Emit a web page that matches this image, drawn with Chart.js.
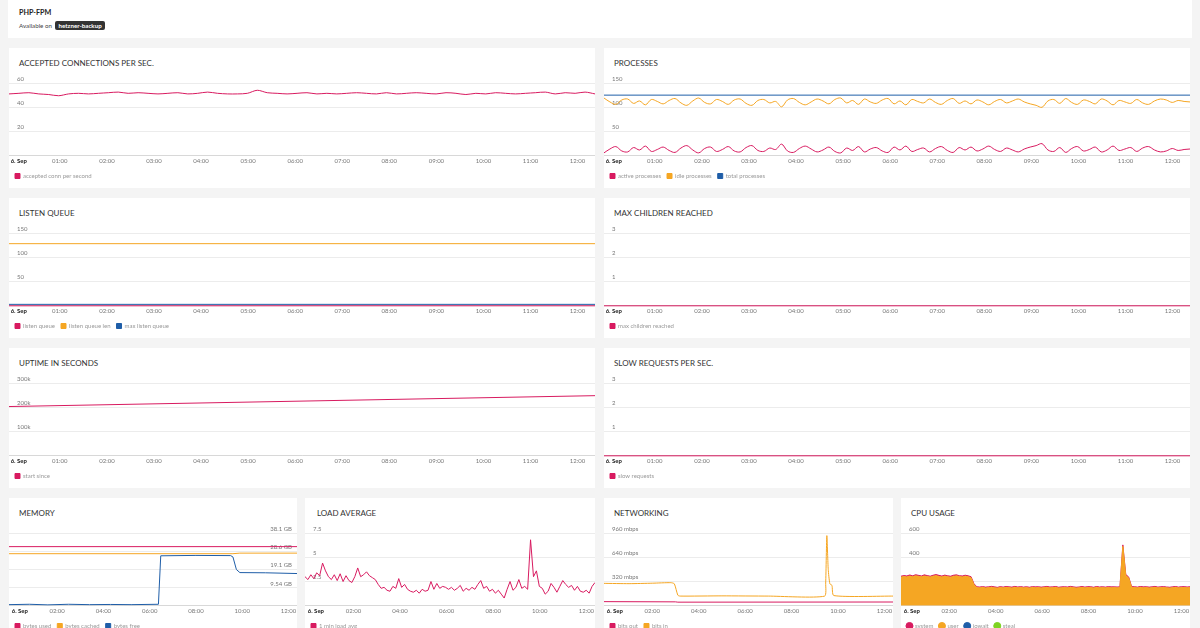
<!DOCTYPE html>
<html>
<head>
<meta charset="utf-8">
<title>PHP-FPM</title>
<script src="https://cdn.jsdelivr.net/npm/chart.js"></script>
<style>
  html, body { margin: 0; padding: 0; }
  body { width: 1200px; height: 628px; overflow: hidden; position: relative; background: #f4f4f4; font-family: Lato, 'Open Sans', sans-serif; }
  .head { position: absolute; left: 8px; top: 0; width: 1184px; height: 38px; background: #fff; }
  .head .name { position: absolute; left: 11px; top: 8px; font-size: 7.2px; font-weight: bold; color: #222; }
  .head .avail { position: absolute; left: 11px; top: 21px; font-size: 6.2px; color: #444; }
  .head .badge { display: inline-block; background: #333; color: #fff; font-weight: bold; padding: 1px 3px; border-radius: 2px; margin-left: 2px; }
  .card { position: absolute; background: #fff; height: 140px; overflow: hidden; }
  .card .title { position: absolute; left: 10px; top: 10px; font-size: 8px; color: #333; white-space: nowrap; }
  .card .plot { position: absolute; left: 0; right: 0; top: 26px; height: 115px; }
</style>
</head>
<body>
<div class="head"><div class="name">PHP-FPM</div><div class="avail">Available on <span class="badge">hetzner-backup</span></div></div>

<div class="card" style="left:9px;top:48px;width:586px"><div class="title">ACCEPTED CONNECTIONS PER SEC.</div><div class="plot"><canvas id="conn"></canvas></div></div>
<div class="card" style="left:604px;top:48px;width:586px"><div class="title">PROCESSES</div><div class="plot"><canvas id="procs"></canvas></div></div>
<div class="card" style="left:9px;top:198px;width:586px"><div class="title">LISTEN QUEUE</div><div class="plot"><canvas id="queue"></canvas></div></div>
<div class="card" style="left:604px;top:198px;width:586px"><div class="title">MAX CHILDREN REACHED</div><div class="plot"><canvas id="children"></canvas></div></div>
<div class="card" style="left:9px;top:348px;width:586px"><div class="title">UPTIME IN SECONDS</div><div class="plot"><canvas id="uptime"></canvas></div></div>
<div class="card" style="left:604px;top:348px;width:586px"><div class="title">SLOW REQUESTS PER SEC.</div><div class="plot"><canvas id="slow"></canvas></div></div>
<div class="card" style="left:9px;top:498px;width:288px"><div class="title">MEMORY</div><div class="plot"><canvas id="memory"></canvas></div></div>
<div class="card" style="left:305px;top:498px;width:290px"><div class="title" style="left:12px">LOAD AVERAGE</div><div class="plot"><canvas id="load"></canvas></div></div>
<div class="card" style="left:604px;top:498px;width:289px"><div class="title">NETWORKING</div><div class="plot"><canvas id="net"></canvas></div></div>
<div class="card" style="left:901px;top:498px;width:289px"><div class="title">CPU USAGE</div><div class="plot"><canvas id="cpu"></canvas></div></div>

<script>
// Zeitachse in Stunden ab Mitternacht (6. Sep)
var X_MIN = -0.08, X_MAX = 12.37;
var HOURS = [0, 1, 2, 3, 4, 5, 6, 7, 8, 9, 10, 11, 12];
var HOUR_LABELS = ['6. Sep', '01:00', '02:00', '03:00', '04:00', '05:00', '06:00', '07:00', '08:00', '09:00', '10:00', '11:00', '12:00'];
var HOURS_WIDE = [0, 2, 4, 6, 8, 10, 12];
var HOUR_LABELS_WIDE = ['6. Sep', '02:00', '04:00', '06:00', '08:00', '10:00', '12:00'];
// Einrückung des ersten Labels, damit es nicht am Rand abgeschnitten wird
var LEAD = '\u2002\u2002\u2002\u2002', LEAD_WIDE = '\u2002\u2002\u2002\u2002\u2002\u2002';

var PINK = '#d81b60', ORANGE = '#f5a623', BLUE = '#1f5ea8', GREEN = '#7ed321';

// accepted conn pro Sekunde
var connValues = [51, 51.5, 52, 51, 50.5, 49.5, 51, 51.5, 51, 51.5,
  52, 52.5, 51.5, 52, 51.5, 51, 51.5, 52, 51, 51.5,
  52.5, 51.5, 51, 51, 51.5, 54, 52, 51.5, 51, 51.5,
  52, 51, 51.5, 51, 51.5, 52, 51.5, 51, 52, 51,
  51.5, 52, 51.5, 51, 52, 51.5, 50.5, 51.5, 51, 52,
  51.5, 51, 51.5, 52, 52.5, 51, 52, 51.5, 52.5, 51];
var connTicks = [0, 20, 40, 60];

// Prozesse
var activeProcs = [6, 14, 19, 10, 8, 17, 12, 20, 9, 13,
  18, 11, 7, 16, 21, 12, 6, 15, 18, 9,
  13, 19, 10, 8, 17, 21, 11, 9, 16, 13,
  24, 10, 7, 15, 20, 14, 8, 12, 18, 9,
  6, 16, 11, 19, 8, 14, 17, 10, 7, 18,
  12, 20, 9, 13, 16, 8, 15, 19, 11, 7,
  17, 12, 18, 10, 14, 20, 13, 9, 16, 12,
  8, 14, 18, 21, 25, 12, 9, 17, 7, 15,
  19, 10, 13, 18, 8, 12, 20, 11, 14, 17,
  9, 16, 19, 12, 8, 10, 15, 11, 13, 14];
var idleProcs = [119, 111, 106, 115, 117, 108, 113, 105, 116, 112,
  107, 114, 118, 109, 104, 113, 119, 110, 107, 116,
  112, 106, 115, 117, 108, 104, 114, 116, 109, 112,
  101, 115, 118, 110, 105, 111, 117, 113, 107, 116,
  119, 109, 114, 106, 117, 111, 108, 115, 118, 107,
  113, 105, 116, 112, 109, 117, 110, 106, 114, 118,
  108, 113, 107, 115, 111, 105, 112, 116, 109, 113,
  117, 111, 107, 104, 100, 113, 116, 108, 118, 110,
  106, 115, 112, 107, 117, 113, 105, 114, 111, 108,
  116, 109, 106, 113, 117, 115, 110, 114, 112, 111];
var totalProcs = [125, 125];
var procTicks = [0, 50, 100, 150];

// Listen queue
var listenQueue = [0, 0];
var listenQueueLen = [128, 128];
var maxListenQueue = [3, 3];
var queueTicks = [0, 50, 100, 150];

var maxChildren = [0, 0];
var slowRequests = [0, 0];
var smallTicks = [0, 1, 2, 3];

// start since (Sekunden)
var startSince = [203000, 247800];
var uptimeTicks = [0, 100000, 200000, 300000];
var uptimeLabels = ['', '100k', '200k', '300k'];

// Speicher in GiB, [Stunde, Wert]
var bytesUsed = [[-0.1, 31.0], [12.4, 31.0]];
var bytesCached = [[-0.1, 27.3], [9.6, 27.3], [9.9, 27.6], [12.4, 27.6]];
var bytesFree = [[-0.1, 0.6], [0.8, 0.8], [1.6, 0.5], [2.5, 0.8], [3.4, 0.6], [4.3, 0.7], [5.2, 0.6], [6.38, 0.8],
  [6.48, 26.2], [8.0, 26.4], [9.5, 26.3], [9.6, 25.6], [9.75, 19.0], [9.9, 17.4], [11.0, 17.3], [12.4, 16.9]];
var memTicks = [0, 9.537, 19.073, 28.61, 38.147];
var memLabels = ['', '9.54 GB', '19.1 GB', '28.6 GB', '38.1 GB'];

// 1 min load avg
var loadValues = [3.0, 2.7, 3.2, 2.8, 3.4, 3.1, 4.4, 3.6, 3.0, 2.7,
  3.2, 2.6, 3.3, 2.5, 3.1, 2.6, 2.4, 3.0, 3.9, 3.0,
  3.2, 3.5, 3.1, 2.9, 2.7, 2.2, 1.8, 1.9, 1.6, 1.5,
  2.0, 1.8, 2.8, 1.9, 2.2, 1.7, 1.5, 1.4, 1.6, 1.3,
  1.7, 1.5, 1.6, 2.5, 1.7, 2.3, 1.8, 2.0, 1.9, 1.7,
  1.9, 1.6, 1.8, 2.1, 1.5, 1.8, 1.6, 1.9, 1.7, 2.2,
  2.6, 1.8, 2.0, 1.5, 1.7, 1.3, 1.6, 1.2, 0.8, 1.7,
  2.5, 1.6, 1.9, 2.7, 1.8, 2.0, 1.7, 6.8, 3.0, 3.6,
  2.0, 1.8, 1.2, 1.5, 2.3, 1.9, 1.4, 2.0, 2.6, 2.2,
  1.9, 2.1, 1.6, 2.0, 1.5, 1.4, 1.6, 1.3, 2.0, 2.4];
var loadTicks = [0, 2.5, 5, 7.5];

// Netzwerk in mbps, [Stunde, Wert]
var bitsOut = [[-0.1, 55], [3.0, 52], [3.1, 48], [12.4, 50]];
var bitsIn = [[-0.1, 296], [1.0, 292], [2.0, 298], [2.8, 305], [2.95, 290], [3.1, 140], [3.2, 128], [5.0, 131],
  [7.0, 128], [9.42, 127], [9.47, 300], [9.52, 925], [9.58, 480], [9.65, 290], [9.74, 270], [9.82, 135], [12.4, 128]];
var netTicks = [0, 320, 640, 960];
var netLabels = ['', '320 mbps', '640 mbps', '960 mbps'];

// CPU (gestapelt: user unten, system oben drauf)
var cpuUser = [236, 242, 238, 245, 240, 248, 243, 239, 246, 241,
  237, 244, 249, 242, 238, 245, 240, 236, 243, 247,
  241, 238, 244, 240, 232, 175, 150,
  148, 152, 147, 150, 153, 149, 146, 151, 148, 152,
  150, 147, 153, 149, 151, 148, 150, 146, 152, 149,
  151, 147, 150, 153, 148, 150, 152, 147, 149, 151,
  148, 153, 150, 146, 149, 152, 148, 151, 150, 147,
  152, 149, 150, 148, 151, 149, 150, 148,
  150, 490, 250, 230, 152,
  150, 148, 152, 149, 151, 147, 150, 153, 148, 150,
  151, 149, 146, 150, 152, 148, 150, 151, 149, 150];
var cpuSystem = [8, 7, 8, 9, 7, 8, 8, 7, 9, 8, 7, 8, 8, 9, 7, 8, 7, 8, 9, 8,
  7, 8, 8, 7, 8, 7, 6, 7, 6, 7, 6, 7, 7, 6, 7, 6, 7, 6, 7, 7,
  6, 7, 6, 7, 7, 6, 7, 6, 7, 6, 7, 7, 6, 7, 6, 7, 6, 7, 7, 6,
  7, 6, 7, 6, 7, 7, 6, 7, 6, 7, 6, 7, 7, 6, 7, 6, 12, 8, 7, 6,
  7, 6, 7, 7, 6, 7, 6, 7, 6, 7, 7, 6, 7, 6, 7, 6, 7, 7, 6, 7];
var cpuTicks = [0, 200, 400, 600];
var cpuLegendOrder = ['system', 'user', 'iowait', 'steal'];

Chart.defaults.font.family = "Lato, 'Open Sans', sans-serif";

// gleichmäßig verteilte Messpunkte über die Zeitachse
function spread(values) {
    var step = (X_MAX - X_MIN) / (values.length - 1);
    return values.map(function (v, i) { return { x: X_MIN + i * step, y: v }; });
}
function pairs(list) {
    return list.map(function (p) { return { x: p[0], y: p[1] }; });
}
function ds(label, color, data, extra) {
    return Object.assign({ label: label, data: data, borderColor: color, backgroundColor: color, borderWidth: 1, pointRadius: 0, tension: 0 }, extra || {});
}

function makeChart(id, datasets, o) {
    var xTicks = o.wide ? HOURS_WIDE : HOURS;
    var xLabels = o.wide ? HOUR_LABELS_WIDE : HOUR_LABELS;
    var lead = o.wide ? LEAD_WIDE : LEAD;
    var yLabels = o.yLabels || o.yTicks.map(function (v) { return v === 0 ? '' : String(v); });
    var legendLabels = {
        boxWidth: 5, boxHeight: 5, padding: 6, color: '#999',
        font: { size: 6 },
        usePointStyle: !!o.dots, pointStyle: 'circle'
    };
    if (o.legendOrder) {
        legendLabels.sort = function (a, b) { return o.legendOrder.indexOf(a.text) - o.legendOrder.indexOf(b.text); };
    }
    return new Chart(document.getElementById(id), {
        type: 'line',
        data: { datasets: datasets },
        options: {
            responsive: true,
            maintainAspectRatio: false,
            animation: false,
            layout: { padding: { top: 9 } },
            plugins: {
                tooltip: { enabled: false },
                legend: { position: 'bottom', align: 'start', labels: legendLabels }
            },
            scales: {
                x: {
                    type: 'linear', min: X_MIN, max: X_MAX,
                    grid: { display: false, drawTicks: false },
                    border: { color: '#d8d8d8' },
                    afterBuildTicks: function (s) { s.ticks = xTicks.map(function (v) { return { value: v }; }); },
                    afterFit: function (s) { s.paddingLeft = 0; s.paddingRight = 0; },
                    ticks: {
                        autoSkip: false, maxRotation: 0, padding: 2,
                        callback: function (v, i) { return i === 0 ? lead + xLabels[i] : xLabels[i]; },
                        color: function (c) { return c.index === 0 ? '#222' : '#777'; },
                        font: function (c) { return c.index === 0 ? { size: 6, weight: 'bold' } : { size: 6 }; }
                    }
                },
                y: {
                    position: o.right ? 'right' : 'left',
                    min: 0, max: o.yTicks[o.yTicks.length - 1],
                    stacked: !!o.stacked,
                    grid: { color: '#ececec', drawTicks: false },
                    border: { display: false },
                    afterBuildTicks: function (s) { s.ticks = o.yTicks.map(function (v) { return { value: v }; }); },
                    afterFit: function (s) { s.width = 0; s.paddingTop = 0; s.paddingBottom = 0; },
                    ticks: {
                        mirror: true, padding: o.right ? -5 : 8, labelOffset: -4,
                        color: '#777', font: { size: 6 },
                        callback: function (v, i) { return yLabels[i]; }
                    }
                }
            }
        }
    });
}

makeChart('conn', [ds('accepted conn per second', PINK, spread(connValues), { tension: 0.3 })], { yTicks: connTicks });

makeChart('procs', [
    ds('active processes', PINK, spread(activeProcs), { tension: 0.35 }),
    ds('idle processes', ORANGE, spread(idleProcs), { tension: 0.35 }),
    ds('total processes', BLUE, spread(totalProcs))
], { yTicks: procTicks });

makeChart('queue', [
    ds('listen queue', PINK, spread(listenQueue), { clip: 2 }),
    ds('listen queue len', ORANGE, spread(listenQueueLen)),
    ds('max listen queue', BLUE, spread(maxListenQueue))
], { yTicks: queueTicks });

makeChart('children', [ds('max children reached', PINK, spread(maxChildren), { clip: 2 })], { yTicks: smallTicks });

makeChart('uptime', [ds('start since', PINK, spread(startSince))], { yTicks: uptimeTicks, yLabels: uptimeLabels });

makeChart('slow', [ds('slow requests', PINK, spread(slowRequests), { clip: 2 })], { yTicks: smallTicks });

makeChart('memory', [
    ds('bytes used', PINK, pairs(bytesUsed)),
    ds('bytes cached', ORANGE, pairs(bytesCached)),
    ds('bytes free', BLUE, pairs(bytesFree))
], { yTicks: memTicks, yLabels: memLabels, right: true, wide: true });

makeChart('load', [ds('1 min load avg', PINK, spread(loadValues))], { yTicks: loadTicks, wide: true });

makeChart('net', [
    ds('bits out', PINK, pairs(bitsOut), { clip: 2 }),
    ds('bits in', ORANGE, pairs(bitsIn), { tension: 0.2 })
], { yTicks: netTicks, yLabels: netLabels, wide: true });

makeChart('cpu', [
    ds('user', ORANGE, spread(cpuUser), { fill: 'origin' }),
    ds('system', PINK, spread(cpuSystem), { fill: '-1' }),
    ds('iowait', BLUE, []),
    ds('steal', GREEN, [])
], { yTicks: cpuTicks, stacked: true, wide: true, dots: true, legendOrder: cpuLegendOrder });
</script>
</body>
</html>
